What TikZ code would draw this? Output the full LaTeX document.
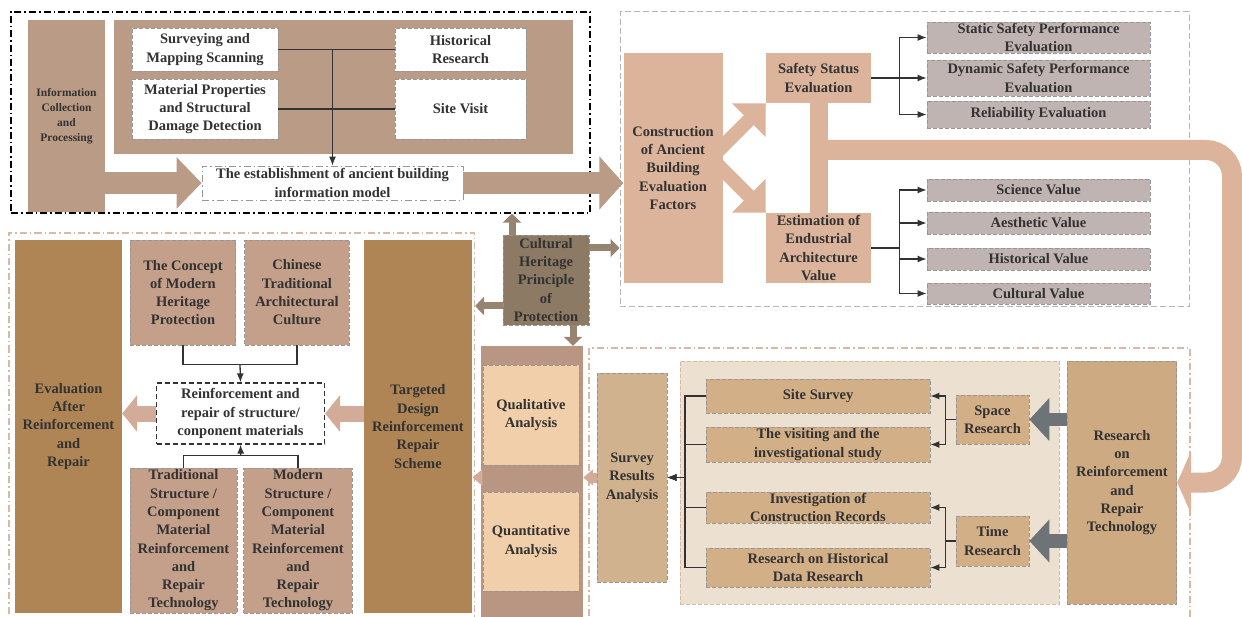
\documentclass[tikz,border=0pt]{standalone}
\usepackage{fontspec}
\setmainfont{Liberation Serif}
\usetikzlibrary{arrows.meta,calc}

\definecolor{infobrown}{RGB}{186,155,133}
\definecolor{darkbrown}{RGB}{176,133,85}
\definecolor{rosebrown}{RGB}{196,160,138}
\definecolor{peach}{RGB}{219,180,155}
\definecolor{greyrose}{RGB}{191,180,177}
\definecolor{culture}{RGB}{140,122,100}
\definecolor{mocha}{RGB}{150,132,112}
\definecolor{colbrown}{RGB}{185,150,130}
\definecolor{cream}{RGB}{240,207,170}
\definecolor{sand}{RGB}{236,224,208}
\definecolor{khaki}{RGB}{210,175,135}
\definecolor{dune}{RGB}{208,178,142}
\definecolor{camel}{RGB}{205,170,130}
\definecolor{slate}{RGB}{110,115,120}
\definecolor{ink}{RGB}{50,50,50}
\definecolor{edge}{RGB}{150,150,150}
\definecolor{tanedge}{RGB}{215,185,165}
\definecolor{arrowtan}{RGB}{210,172,152}

\begin{document}
\begin{tikzpicture}[x=1pt, y=-1pt,
    sz/.style 2 args={minimum width=#1pt, minimum height=#2pt},
    txt/.style={align=center, text=ink, inner sep=0pt, font=\fontsize{14.5}{18.3}\selectfont\bfseries},
    dashedge/.style={draw=edge, line width=0.8pt, dash pattern=on 4pt off 2pt},
    dashdot/.style={dash pattern=on 7pt off 3pt on 1.5pt off 3pt},
    wire/.style={draw=ink, line width=1.3pt},
    branch/.style={draw=ink, line width=1.3pt, -{Latex[length=9pt,width=7pt]}},
    fat/.style args={#1/#2/#3}{line width=#1pt, -{Triangle[width=#2pt,length=#3pt]}}]

    \useasboundingbox (0,0) rectangle (1242,617);

    \node[sz={579}{201}, draw=black, line width=1.1pt, dashdot] (infoframe) at (300.5,112.5) {};
    \node[sz={569}{295}, draw=edge!70, line width=1pt, dash pattern=on 6pt off 3pt] (evalframe) at (904.5,159.5) {};
    \node[sz={465.5}{392}, draw=tanedge, line width=1.1pt, dashdot] (repairframe) at (241.75,429) {};
    \node[sz={601}{277}, draw=tanedge, line width=1.1pt, dashdot] (surveyframe) at (889.5,486.5) {};

    \node[sz={459.5}{134}, fill=infobrown] (panel) at (343.25,87) {};
    \node[txt, sz={77}{192}, fill=infobrown, font=\fontsize{11.5}{15}\selectfont\bfseries] (info) at (66.5,116) {Information\\Collection\\and\\Processing};
    \node[txt, sz={146}{43}, fill=white, dashedge] (mapping) at (205,49.5) {Surveying and\\Mapping Scanning};
    \node[txt, sz={131}{43}, fill=white, dashedge] (histres) at (460.5,49.5) {Historical\\Research};
    \node[txt, sz={146}{60}, fill=white, dashedge] (material) at (205,109) {Material Properties\\and Structural\\Damage Detection};
    \node[txt, sz={131}{60}, fill=white, dashedge] (sitevisit) at (460.5,109) {Site Visit};
    \node[txt, sz={261}{34}, fill=white, draw=edge, line width=0.8pt, dashdot] (bim) at (332.5,183) {The establishment of ancient building\\information model};

    \node[txt, sz={99}{230}, fill=peach] (cons) at (673,168) {Construction\\of Ancient\\Building\\Evaluation\\Factors};
    \node[txt, sz={105}{50}, fill=peach] (safety) at (818.5,78) {Safety Status\\Evaluation};
    \node[txt, sz={105}{70}, fill=peach] (estim) at (818.5,248) {Estimation of\\Endustrial\\Architecture\\Value};
    \foreach \n/\y/\h/\t in {static/37.5/31/{Static Safety Performance\\Evaluation}, dynamic/78/36/{Dynamic Safety Performance\\Evaluation}, reliab/114.5/27/{Reliability Evaluation}, science/190/22/{Science Value}, aesthetic/223/22/{Aesthetic Value}, histval/259/22/{Historical Value}, cultval/293.5/21/{Cultural Value}} {
        \node[txt, sz={223}{\h}, fill=greyrose, dashedge] (\n) at (1038.5,\y) {\t};
    }

    \node[txt, sz={107}{373}, fill=darkbrown] (evalafter) at (68.5,426.5) {Evaluation\\After\\Reinforcement\\and\\Repair};
    \node[txt, sz={105.5}{105}, fill=rosebrown, dashedge] (concept) at (183,292.5) {The Concept\\of Modern\\Heritage\\Protection};
    \node[txt, sz={104.5}{105}, fill=rosebrown, dashedge] (chinese) at (297,292.5) {Chinese\\Traditional\\Architectural\\Culture};
    \node[txt, sz={168}{61}, fill=white, draw=black!80, line width=1.2pt, dash pattern=on 5pt off 3pt] (reinf) at (240.5,413.5) {Reinforcement and\\repair of structure/\\conponent materials};
    \node[txt, sz={107}{145}, fill=rosebrown, dashedge] (tradtech) at (183.5,540.5) {Traditional\\Structure /\\Component\\Material\\Reinforcement\\and\\Repair\\Technology};
    \node[txt, sz={108.5}{145}, fill=rosebrown, dashedge] (modtech) at (298,540.5) {Modern\\Structure /\\Component\\Material\\Reinforcement\\and\\Repair\\Technology};
    \node[txt, sz={108.5}{373}, fill=darkbrown] (targeted) at (418,426.5) {Targeted\\Design\\Reinforcement\\Repair\\Scheme};

    \node[txt, sz={86}{90}, fill=culture, dashedge] (cultural) at (546,280) {Cultural\\Heritage\\Principle\\of\\Protection};

    \node[sz={102}{274}, fill=colbrown] (midcol) at (532,483) {};
    \node[txt, sz={96}{100}, fill=cream, dashedge] (qual) at (531,415) {Qualitative\\Analysis};
    \node[txt, sz={96}{99}, fill=cream, dashedge] (quant) at (531,541.5) {Quantitative\\Analysis};

    \node[sz={379}{243}, fill=sand, draw=tanedge, line width=0.8pt, dash pattern=on 4pt off 2pt] (studyarea) at (869.5,482.5) {};
    \node[txt, sz={70}{209}, fill=dune, dashedge] (results) at (632,477.5) {Survey\\Results\\Analysis};
    \foreach \n/\y/\h/\t in {site/396/34/{Site Survey}, visit/444.5/35/{The visiting and the\\investigational study}, invest/507.5/31/{Investigation of\\Construction Records}, hdata/567.5/39/{Research on Historical\\Data Research}} {
        \node[txt, sz={224}{\h}, fill=khaki, dashedge] (\n) at (818,\y) {\t};
    }
    \node[txt, sz={73}{49}, fill=khaki, dashedge] (space) at (992.5,419.5) {Space\\Research};
    \node[txt, sz={73}{50}, fill=khaki, dashedge] (time) at (992.5,541) {Time\\Research};
    \node[txt, sz={109.5}{243}, fill=camel, dashedge] (rrt) at (1122,482.5) {Research\\on\\Reinforcement\\and\\Repair\\Technology};

    \draw[wire] (mapping.east) -- (histres.west);
    \draw[wire] (material.east) -- (sitevisit.west);
    \draw[branch] (mapping.east -| bim.north) -- (bim.north);
    \draw[infobrown, fat=22/50/25] (info.east |- bim.west) -- (bim.west);
    \draw[infobrown, fat=22/52/24] (bim.east) -- (bim.east -| cons.west);

    \draw[peach, fat=14/46/24] ($(safety.south west)+(-54,54)$) -- (safety.south west);
    \draw[peach, fat=14/46/24] ($(estim.north west)+(-54,-54)$) -- (estim.north west);
    \draw[peach, line width=18pt] (safety.south) -- (estim.north);
    \coordinate (bandstart) at (818,150);
    \coordinate (bandturn) at (1232,150);
    \draw[peach, line width=20pt, rounded corners=26pt, -{Triangle[width=62pt,length=14pt]}] (bandstart) -- (bandturn) |- (rrt.east);

    \foreach \n in {static,dynamic,reliab} {
        \draw[branch] (safety.east) -- ++(28,0) |- (\n.west);
    }
    \foreach \n in {science,aesthetic,histval,cultval} {
        \draw[branch] (estim.east) -- ++(28,0) |- (\n.west);
    }

    \draw[wire] (concept.south) -- ++(0,19) -| (chinese.south);
    \draw[branch] ($(concept.south)!0.5!(chinese.south)+(0,19)$) -- (reinf.north);
    \draw[wire] (tradtech.north) -- ++(0,-12) -| (modtech.north);
    \draw[branch] ($(tradtech.north)!0.5!(modtech.north)+(0,-12)$) -- (reinf.south);
    \draw[arrowtan, fat=16/36/15] (reinf.west) -- (reinf.west -| evalafter.east);
    \draw[arrowtan, fat=16/36/15] (targeted.west |- reinf.east) -- (reinf.east);

    \coordinate (cup) at ([xshift=-34pt]cultural.north);
    \coordinate (cright) at ([yshift=32pt]cultural.east);
    \coordinate (cleft) at ([yshift=-26pt]cultural.west);
    \coordinate (cdown) at ([xshift=27pt]cultural.south);
    \draw[mocha, fat=7/18/9] (cup) -- (cup |- infoframe.south);
    \draw[mocha, fat=7/18/9] (cright) -- (cright -| evalframe.west);
    \draw[mocha, fat=7/18/9] (cleft) -- (cleft -| repairframe.east);
    \draw[mocha, fat=7/18/9] (cdown) -- (cdown |- midcol.north);

    \draw[arrowtan, fat=10/16/10] (results.west) -- (results.west -| midcol.east);
    \draw[arrowtan, fat=10/16/10] (midcol.west |- results.west) -- (results.west -| targeted.east);

    \foreach \n in {site,visit,invest,hdata} {
        \draw[branch] (\n.west) -- ++(-20.5,0) |- (results.east);
    }
    \foreach \n in {site,visit} {
        \draw[branch] (space.west) -- ++(-10,0) |- (\n.east);
    }
    \foreach \n in {invest,hdata} {
        \draw[branch] (time.west) -- ++(-10,0) |- (\n.east);
    }
    \draw[slate, fat=13/42/20] (rrt.west |- space.east) -- (space.east);
    \draw[slate, fat=14/42/20] (rrt.west |- time.east) -- (time.east);
\end{tikzpicture}
\end{document}
